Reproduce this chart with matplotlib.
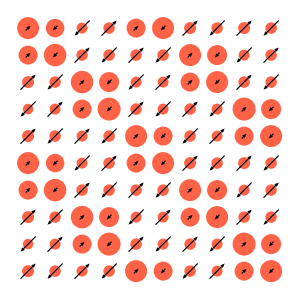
import matplotlib
matplotlib.use("Agg")
import matplotlib.pyplot as plt
import numpy as np

# circle diameters (px) per cell, rows top to bottom
diam = np.array([
    [22, 18.5, 11, 11.5, 19, 22, 12, 11.5, 12, 11.5],
    [19, 22.5, 11.5, 11.5, 11.5, 11.5, 22, 20, 11, 11.5],
    [12, 11.5, 22.5, 20, 11, 11, 19, 22, 11.5, 11.5],
    [10.5, 11, 19, 23, 11.5, 11, 11.5, 11, 23, 20],
    [12, 11.5, 11, 11.5, 22, 19, 11.5, 11, 19, 22],
    [22, 18.5, 11, 11.5, 19, 22, 12, 11.5, 12, 11.5],
    [19, 22.5, 11.5, 11.5, 11.5, 11.5, 22, 20, 11, 11.5],
    [12, 11.5, 22.5, 20, 11, 11, 19, 22, 11.5, 11.5],
    [10.5, 11, 19, 23, 11.5, 11, 11.5, 11, 23, 20],
    [12, 11.5, 11, 11.5, 22, 19, 11.5, 11, 19, 22],
])

# arrow component (u = v), + points up-right, - points down-left
L, s = 0.56, 0.18
comp = np.array([
    [s, -s, -L, L, s, -s, L, -L, L, -L],
    [s, -s, L, -L, L, -L, s, -s, -L, L],
    [L, -L, s, -s, -L, L, s, -s, L, -L],
    [-L, L, s, -s, L, -L, L, -L, s, -s],
    [L, -L, L, -L, s, -s, -L, L, s, -s],
    [s, -s, -L, L, s, -s, L, -L, L, -L],
    [s, -s, L, -L, L, -L, s, -s, -L, L],
    [L, -L, s, -s, -L, L, s, -s, L, -L],
    [-L, L, s, -s, L, -L, L, -L, s, -s],
    [L, -L, L, -L, s, -s, -L, L, s, -s],
])

nrow, ncol = diam.shape
cols, rows = np.meshgrid(np.arange(ncol), np.arange(nrow))
x = cols.ravel()
y = (nrow - 1 - rows).ravel()

fig = plt.figure(figsize=(3, 3), dpi=100)
ax = fig.add_axes([0, 0, 1, 1])
ax.scatter(x, y, s=(diam.ravel() * 0.72) ** 2, color="tomato",
           edgecolors="none", zorder=1)
ax.quiver(x, y, comp.ravel(), comp.ravel(), angles="xy", scale_units="xy",
          scale=1, pivot="middle", units="xy", width=0.044, headwidth=3.2,
          headlength=3.8, headaxislength=3.4, minshaft=0.5,
          color="black", zorder=2)
ax.set_xlim(-1.04, 10.07)
ax.set_ylim(-1.07, 10.04)
ax.axis("off")
fig.savefig("out.png", dpi=100)
